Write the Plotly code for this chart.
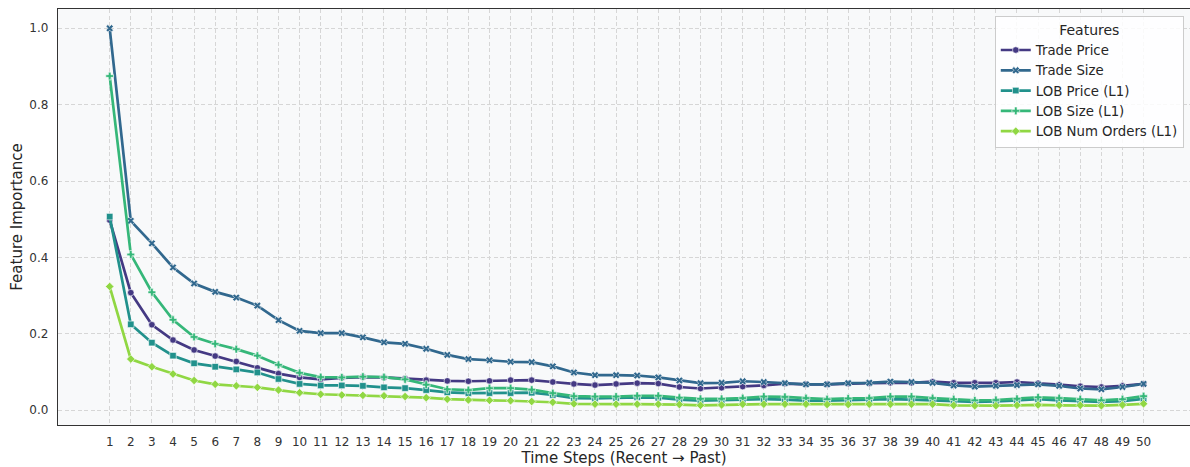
import plotly.graph_objects as go

# Time-step lags (1 = most recent)
steps = list(range(1, 51))

trade_price = [0.498, 0.308, 0.224, 0.184, 0.158, 0.142, 0.128, 0.111, 0.096, 0.086,
               0.081, 0.085, 0.087, 0.086, 0.083, 0.079, 0.077, 0.076, 0.077, 0.079,
               0.079, 0.074, 0.069, 0.066, 0.069, 0.071, 0.070, 0.061, 0.057, 0.059,
               0.062, 0.065, 0.070, 0.068, 0.068, 0.070, 0.071, 0.072, 0.072, 0.075,
               0.072, 0.072, 0.072, 0.074, 0.071, 0.067, 0.063, 0.061, 0.064, 0.069]

trade_size = [1.000, 0.496, 0.437, 0.374, 0.332, 0.310, 0.295, 0.274, 0.236, 0.208,
              0.202, 0.202, 0.191, 0.178, 0.174, 0.161, 0.145, 0.134, 0.131, 0.127,
              0.126, 0.115, 0.099, 0.092, 0.092, 0.091, 0.086, 0.078, 0.071, 0.072,
              0.076, 0.074, 0.071, 0.068, 0.068, 0.071, 0.072, 0.075, 0.074, 0.072,
              0.065, 0.062, 0.064, 0.066, 0.068, 0.064, 0.057, 0.055, 0.061, 0.069]

lob_price = [0.507, 0.225, 0.177, 0.143, 0.123, 0.114, 0.107, 0.099, 0.082, 0.069,
             0.065, 0.065, 0.064, 0.060, 0.058, 0.053, 0.047, 0.045, 0.045, 0.045,
             0.046, 0.040, 0.032, 0.031, 0.032, 0.034, 0.033, 0.028, 0.025, 0.026,
             0.027, 0.029, 0.028, 0.025, 0.025, 0.026, 0.027, 0.029, 0.028, 0.026,
             0.024, 0.022, 0.023, 0.026, 0.029, 0.026, 0.024, 0.022, 0.024, 0.030]

lob_size = [0.875, 0.408, 0.309, 0.237, 0.192, 0.174, 0.160, 0.143, 0.119, 0.098,
            0.087, 0.086, 0.088, 0.087, 0.081, 0.067, 0.055, 0.053, 0.058, 0.058,
            0.054, 0.045, 0.037, 0.036, 0.036, 0.038, 0.038, 0.033, 0.030, 0.030,
            0.032, 0.036, 0.035, 0.032, 0.029, 0.031, 0.032, 0.036, 0.036, 0.032,
            0.029, 0.026, 0.027, 0.030, 0.034, 0.032, 0.029, 0.026, 0.029, 0.037]

lob_num_orders = [0.324, 0.134, 0.114, 0.095, 0.078, 0.068, 0.064, 0.060, 0.053, 0.046,
                  0.042, 0.040, 0.039, 0.038, 0.036, 0.033, 0.029, 0.027, 0.026, 0.025,
                  0.023, 0.021, 0.017, 0.016, 0.016, 0.016, 0.016, 0.015, 0.013, 0.014,
                  0.016, 0.016, 0.016, 0.016, 0.015, 0.015, 0.016, 0.016, 0.016, 0.016,
                  0.013, 0.012, 0.012, 0.013, 0.014, 0.013, 0.013, 0.012, 0.014, 0.017]

feature_names = ["Trade Price", "Trade Size", "LOB Price (L1)", "LOB Size (L1)", "LOB Num Orders (L1)"]
feature_values = [trade_price, trade_size, lob_price, lob_size, lob_num_orders]
colors = ["#443983", "#31688e", "#21918c", "#35b779", "#90d743"]
symbols = ["circle", "x", "square", "cross", "diamond"]

FONT = "DejaVu Sans"
GRID_DASH = "4px,2.5px"

fig = go.Figure()
for name, vals, col, sym in zip(feature_names, feature_values, colors, symbols):
    fig.add_trace(go.Scatter(
        x=steps, y=vals, name=name, mode="lines+markers",
        line=dict(color=col, width=2.7),
        marker=dict(symbol=sym, size=6.5, color=col, line=dict(color="white", width=0.6)),
        legendgroup=name,
    ))

fig.update_layout(
    width=1190, height=467,
    margin=dict(l=58, r=0, t=9, b=42),
    paper_bgcolor="white",
    plot_bgcolor="#f8f9fa",
    font=dict(family=FONT, size=12, color="#333333"),
    showlegend=True,
    legend=dict(
        x=0.9945, y=0.984, xanchor="right", yanchor="top",
        bgcolor="rgba(255,255,255,0.85)", bordercolor="#cccccc", borderwidth=1,
        font=dict(family=FONT, size=13.3, color="#262626"),
        title=dict(text="Features", side="top center", font=dict(family=FONT, size=14, color="#262626")),
        itemwidth=30, tracegroupgap=0,
    ),
    xaxis=dict(
        range=[-1.45, 52.2],
        tickmode="array", tickvals=steps, ticktext=[str(s) for s in steps],
        tickfont=dict(family=FONT, size=12, color="#333333"),
        ticks="outside", ticklen=5, tickcolor="rgba(0,0,0,0)",
        showgrid=True, gridcolor="#d6d6d6", griddash=GRID_DASH, gridwidth=1,
        showline=True, linecolor="#333333", linewidth=1.3, mirror=True,
        zeroline=False,
        title=dict(text="Time Steps (Recent \u2192 Past)", font=dict(family=FONT, size=15, color="#262626"), standoff=4),
    ),
    yaxis=dict(
        range=[-0.0385, 1.0505],
        tickmode="array", tickvals=[0.0, 0.2, 0.4, 0.6, 0.8, 1.0],
        tickformat=".1f",
        tickfont=dict(family=FONT, size=12, color="#333333"),
        ticks="outside", ticklen=6, tickcolor="rgba(0,0,0,0)",
        showgrid=True, gridcolor="#d6d6d6", griddash=GRID_DASH, gridwidth=1,
        showline=True, linecolor="#333333", linewidth=1.3, mirror=False,
        zeroline=False,
        title=dict(text="Feature Importance", font=dict(family=FONT, size=15, color="#262626"), standoff=3),
    ),
)

fig.write_html("out.html")
